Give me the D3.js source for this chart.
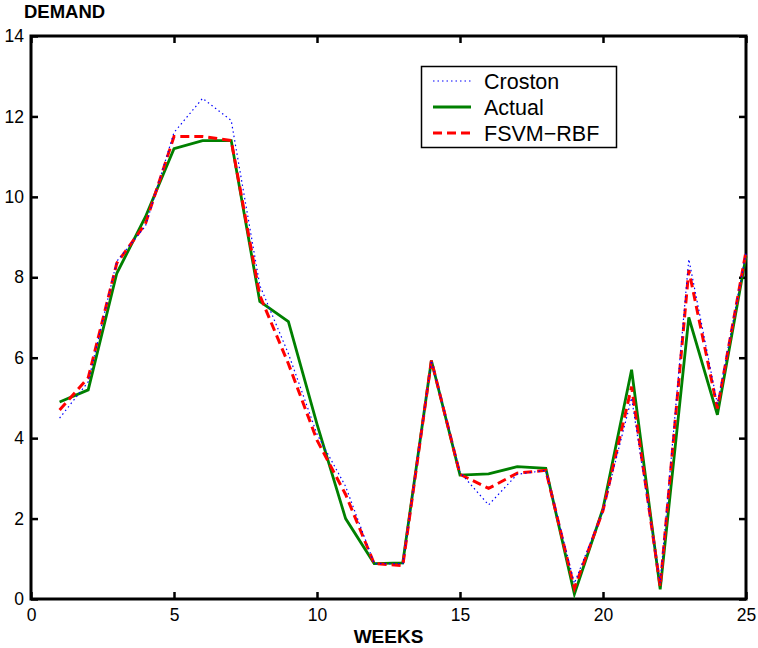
<!DOCTYPE html>
<html>
<head>
<meta charset="utf-8">
<script src="https://cdn.jsdelivr.net/npm/d3@7"></script>
<style>
  body { margin: 0; background: #fff; }
  svg { display: block; font-family: "Liberation Sans", Arial, sans-serif; }
  .tick text { font-size: 17.5px; fill: #000; }
</style>
</head>
<body>
<div id="chart"></div>
<script>
(function () {
  'use strict';

  // data
  var weeks = [1, 2, 3, 4, 5, 6, 7, 8, 9, 10, 11, 12, 13, 14, 15, 16, 17, 18, 19, 20, 21, 22, 23, 24, 25];

  var actual = [4.9, 5.2, 8.1, 9.5, 11.2, 11.4, 11.4, 7.4, 6.9, 4.35, 2.0, 0.88, 0.9,
                5.93, 3.08, 3.11, 3.29, 3.25, 0.12, 2.25, 5.7, 0.24, 7.0, 4.58, 8.52];

  var croston = [4.5, 5.4, 8.4, 9.27, 11.6, 12.45, 11.9, 7.8, 6.1, 4.1, 2.8, 0.88, 0.88,
                 5.93, 3.15, 2.34, 3.1, 3.2, 0.39, 2.2, 5.0, 0.4, 8.45, 4.85, 8.6];

  var fsvm = [4.7, 5.5, 8.35, 9.33, 11.5, 11.5, 11.4, 7.55, 5.85, 3.95, 2.6, 0.88, 0.83,
              5.93, 3.1, 2.75, 3.13, 3.2, 0.27, 2.2, 5.28, 0.31, 8.18, 4.74, 8.64];

  var xTicks = [0, 5, 10, 15, 20, 25];
  var yTicks = [0, 2, 4, 6, 8, 10, 12, 14];

  var series = [
    {name: 'Actual', values: actual, color: '#008000', width: 2.8, dash: null},
    {name: 'FSVM\u2212RBF', values: fsvm, color: '#ff0000', width: 3, dash: '9,5'},
    {name: 'Croston', values: croston, color: '#0000ff', width: 1.2, dash: '1.5,3'}
  ];
  var legendOrder = ['Croston', 'Actual', 'FSVM\u2212RBF'];

  var W = 758, H = 648,
      left = 31, right = 746, top = 36, bottom = 599;

  var svg = d3.select('#chart').append('svg')
    .attr('width', W)
    .attr('height', H);

  var x = d3.scaleLinear().domain([0, 25]).range([left, right]);
  var y = d3.scaleLinear().domain([0, 14]).range([bottom, top]);

  // axes, ticks pointing inward like matlab
  svg.append('g')
    .attr('transform', 'translate(0,' + bottom + ')')
    .call(d3.axisBottom(x).tickValues(xTicks).tickSizeInner(-7).tickSizeOuter(0).tickPadding(10));

  svg.append('g')
    .attr('transform', 'translate(' + left + ',0)')
    .call(d3.axisLeft(y).tickValues(yTicks).tickSizeInner(-7).tickSizeOuter(0).tickPadding(7));

  svg.append('g')
    .attr('transform', 'translate(0,' + top + ')')
    .call(d3.axisTop(x).tickValues(xTicks).tickFormat('').tickSizeInner(-7).tickSizeOuter(0));

  svg.append('g')
    .attr('transform', 'translate(' + right + ',0)')
    .call(d3.axisRight(y).tickValues(yTicks).tickFormat('').tickSizeInner(-7).tickSizeOuter(0));

  svg.selectAll('.domain').remove();
  svg.selectAll('.tick line').attr('stroke', '#000').attr('stroke-width', 2.5);

  svg.append('rect')
    .attr('x', left)
    .attr('y', top)
    .attr('width', right - left)
    .attr('height', bottom - top)
    .attr('fill', 'none')
    .attr('stroke', '#000')
    .attr('stroke-width', 3);

  // lines
  var line = d3.line()
    .x(function (d, i) { return x(weeks[i]); })
    .y(function (d) { return y(d); });

  series.forEach(function (s) {
    svg.append('path')
      .datum(s.values)
      .attr('d', line)
      .attr('fill', 'none')
      .attr('stroke', s.color)
      .attr('stroke-width', s.width)
      .attr('stroke-dasharray', s.dash)
      .attr('stroke-linejoin', 'miter');
  });

  // labels
  svg.append('text')
    .attr('x', 24)
    .attr('y', 18)
    .style('font-size', '18.5px')
    .style('font-weight', 'bold')
    .text('DEMAND');

  svg.append('text')
    .attr('x', (left + right) / 2)
    .attr('y', 643)
    .attr('text-anchor', 'middle')
    .style('font-size', '19px')
    .style('font-weight', 'bold')
    .text('WEEKS');

  // legend
  var lg = svg.append('g');
  lg.append('rect')
    .attr('x', 421.5)
    .attr('y', 66.5)
    .attr('width', 195)
    .attr('height', 81)
    .attr('fill', '#fff')
    .attr('stroke', '#000')
    .attr('stroke-width', 1.5);

  legendOrder.forEach(function (name, i) {
    var s = series.filter(function (d) { return d.name === name; })[0];
    var ly = 81 + i * 26;
    lg.append('line')
      .attr('x1', 433).attr('x2', 471)
      .attr('y1', ly).attr('y2', ly)
      .attr('stroke', s.color)
      .attr('stroke-width', s.width)
      .attr('stroke-dasharray', s.dash);
    lg.append('text')
      .attr('x', 484)
      .attr('y', ly + 7.5)
      .style('font-size', '21.5px')
      .text(s.name);
  });
}());
</script>
</body>
</html>
